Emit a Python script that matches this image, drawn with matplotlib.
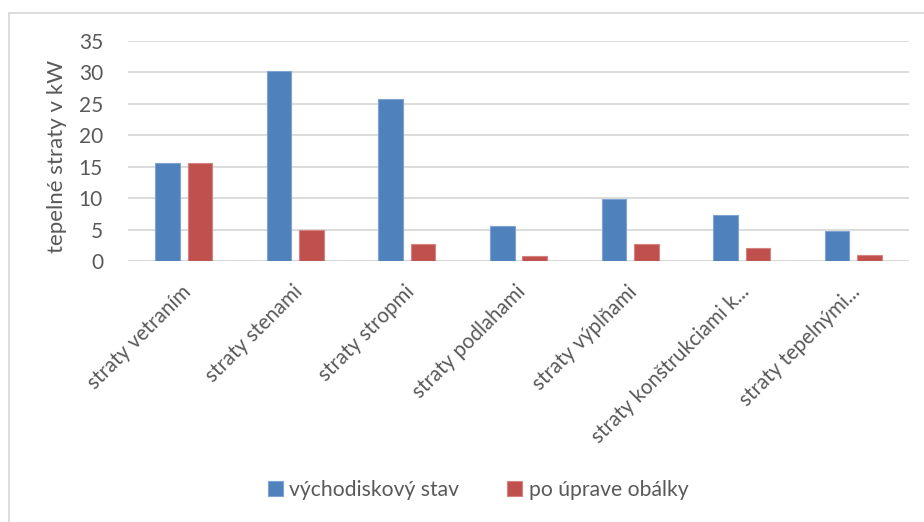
import matplotlib
matplotlib.use("Agg")
import matplotlib.pyplot as plt
from matplotlib.patches import Rectangle
import numpy as np

categories = [
    "straty vetraním",
    "straty stenami",
    "straty stropmi",
    "straty podlahami",
    "straty výplňami",
    "straty konštrukciami k...",
    "straty tepelnými...",
]
vychodiskovy_stav = [15.6, 30.3, 25.7, 5.5, 9.8, 7.3, 4.8]
po_uprave_obalky = [15.6, 4.9, 2.7, 0.85, 2.7, 2.1, 0.95]
series_names = ["východiskový stav", "po úprave obálky"]
y_ticks = [0, 5, 10, 15, 20, 25, 30, 35]

plt.rcParams["font.family"] = ["Lato", "DejaVu Sans"]
text_color = "#595959"
blue = "#4F81BD"
red = "#C0504D"

W, H = 924, 522
fig = plt.figure(figsize=(W / 100, H / 100), dpi=100)

# outer chart frame
fig.patches.append(Rectangle((9 / W, -0.05), 1.1, 1 - 12.5 / H + 0.05,
                             transform=fig.transFigure, fill=False,
                             edgecolor="#d9d9d9", linewidth=1.3))

ax = fig.add_axes([128 / W, 1 - 261 / H, (909 - 128) / W, (261 - 41) / H])
x = np.arange(len(categories))
bw = 0.22
off = 0.145
ax.bar(x - off, vychodiskovy_stav, bw, color=blue, edgecolor="#7fa3d3",
       linewidth=0.8, zorder=3, label=series_names[0])
ax.bar(x + off, po_uprave_obalky, bw, color=red, edgecolor="#d6837f",
       linewidth=0.8, zorder=3, label=series_names[1])

ax.set_xlim(-0.5, len(categories) - 0.5)
ax.set_ylim(0, 35)
ax.set_yticks(y_ticks)
ax.yaxis.grid(True, color="#d9d9d9", linewidth=1.3, zorder=0)
ax.set_axisbelow(True)
for s in ax.spines.values():
    s.set_visible(False)
ax.axhline(0, color="#d9d9d9", linewidth=1.3, zorder=2)
ax.tick_params(axis="y", length=0, pad=18, labelsize=15, labelcolor=text_color)
ax.tick_params(axis="x", length=0)
ax.set_xticks(x)
ax.set_xticklabels([])
for xi, lab in zip(x, categories):
    ax.annotate(lab, xy=(xi, 0), xycoords=("data", "axes fraction"),
                xytext=(3, -20), textcoords="offset points",
                rotation=45, rotation_mode="anchor", ha="right", va="center",
                fontsize=14.8, color=text_color)

fig.text(57 / W, 1 - 156 / H, "tepelné straty v kW", rotation=90,
         ha="center", va="center", fontsize=16, color=text_color)

handles, labels = ax.get_legend_handles_labels()
fig.legend(handles, labels, loc="center", bbox_to_anchor=(478 / W, 1 - 490 / H),
           ncol=2, frameon=False, fontsize=15.2, labelcolor=text_color,
           handlelength=0.7, handleheight=0.7, handletextpad=0.3,
           columnspacing=2.3)

fig.savefig("out.png", dpi=100, facecolor="white")
